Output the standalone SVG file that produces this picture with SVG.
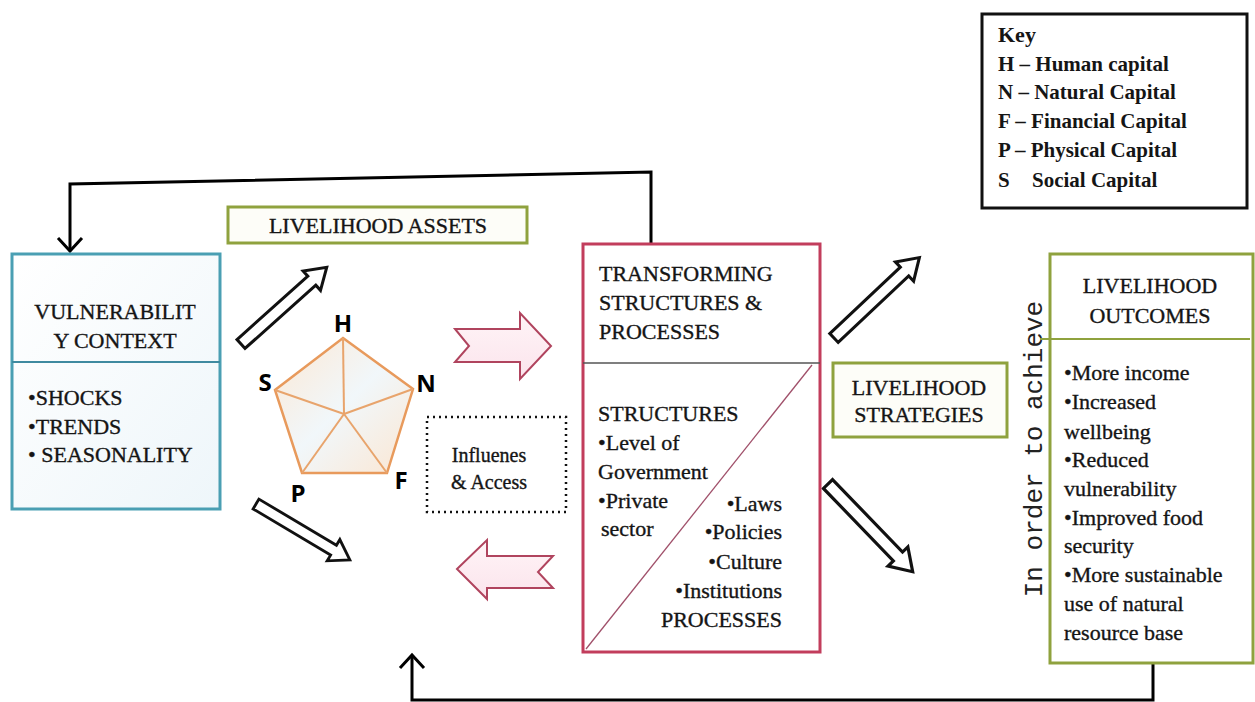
<svg xmlns="http://www.w3.org/2000/svg" width="1255" height="702" viewBox="0 0 1255 702">
<defs>
<linearGradient id="gBlue" x1="0" y1="0" x2="1" y2="1">
<stop offset="0" stop-color="#ffffff"/><stop offset="1" stop-color="#eef6fa"/>
</linearGradient>
<linearGradient id="gPink" x1="0" y1="0" x2="0" y2="1">
<stop offset="0" stop-color="#fff4f7"/><stop offset="1" stop-color="#fbe4ec"/>
</linearGradient>
<linearGradient id="gPent" x1="0" y1="0" x2="1" y2="1">
<stop offset="0" stop-color="#fce8d4"/><stop offset="0.5" stop-color="#f1f7fa"/><stop offset="1" stop-color="#fbe6d2"/>
</linearGradient>
<path id="blk" d="M0,-6 L95,-6 L95,-13 L115,0 L95,13 L95,6 L0,6 Z"/>
<style>
text{font-family:"Liberation Serif","Times New Roman",serif;fill:#151515;}
.t{font-size:22px;stroke:#151515;stroke-width:0.35px;}
.c{text-anchor:middle;}
.r{text-anchor:end;}
.k{font-size:21px;font-weight:bold;}
.ps{font-family:"Open Sans","Liberation Sans",sans-serif;font-weight:bold;font-size:24px;fill:#000;text-anchor:middle;}
.mono{font-family:"Liberation Mono","DejaVu Sans Mono",monospace;font-size:26px;fill:#222;}
.blkarrow{fill:#fff;stroke:#111;stroke-width:3;stroke-linejoin:miter;}
.pinkarrow{fill:url(#gPink);stroke:#b0445e;stroke-width:2;}
.conn{fill:none;stroke:#000;stroke-width:3;}
.green{fill:#fdfdf8;stroke:#8fa23e;stroke-width:3;}
</style>
</defs>
<rect width="1255" height="702" fill="#fff"/>

<g id="connectors">
<polyline class="conn" points="651,244 651,172 70,184 70,250"/>
<polyline class="conn" points="58,238 70,251 82,238"/>
<polyline class="conn" points="1153,663 1153,700 412,700 412,656"/>
<polyline class="conn" points="400,668 412,655 424,668"/>
</g>

<g id="key">
<rect x="982" y="14" width="265" height="194" fill="#fff" stroke="#111" stroke-width="3"/>
<text x="998" y="42" class="k" style="font-size:22px">Key</text>
<text x="998" y="71" class="k">H – Human capital</text>
<text x="998" y="99" class="k">N – Natural Capital</text>
<text x="998" y="128" class="k">F – Financial Capital</text>
<text x="998" y="157" class="k">P – Physical Capital</text>
<text x="998" y="187" class="k">S<tspan x="1032">Social Capital</tspan></text>
</g>

<g id="vulnerability">
<rect x="12" y="254" width="208" height="255" fill="url(#gBlue)" stroke="#4a9fb3" stroke-width="3"/>
<line x1="12" y1="362" x2="220" y2="362" stroke="#3f8aa0" stroke-width="2"/>
<text x="115" y="319" class="t c">VULNERABILIT</text>
<text x="115" y="348" class="t c">Y CONTEXT</text>
<text x="28" y="405" class="t">•SHOCKS</text>
<text x="28" y="434" class="t">•TRENDS</text>
<text x="28" y="462" class="t">• SEASONALITY</text>
</g>

<g id="assets-label">
<rect x="228" y="207" width="299" height="36" class="green"/>
<text x="378" y="233" class="t c">LIVELIHOOD ASSETS</text>
</g>

<g id="pentagon">
<polygon points="343,338 413,389 387,473 302,473 275,390" fill="url(#gPent)" stroke="#e89a5c" stroke-width="2.5"/>
<g stroke="#e8a46c" stroke-width="2">
<line x1="344" y1="414" x2="343" y2="338"/>
<line x1="344" y1="414" x2="413" y2="389"/>
<line x1="344" y1="414" x2="387" y2="473"/>
<line x1="344" y1="414" x2="302" y2="473"/>
<line x1="344" y1="414" x2="275" y2="390"/>
</g>
<text x="343" y="332" class="ps">H</text>
<text x="265" y="391" class="ps">S</text>
<text x="426" y="392" class="ps">N</text>
<text x="298" y="502" class="ps">P</text>
<text x="401" y="489" class="ps">F</text>
</g>

<g id="influences">
<rect x="427" y="417" width="139" height="95" fill="#fff" stroke="#111" stroke-width="2.5" stroke-dasharray="2,4"/>
<text x="489" y="462" class="t c" style="font-size:20px">Influenes</text>
<text x="489" y="489" class="t c" style="font-size:20px">&amp; Access</text>
</g>

<g id="arrows-block">
<use href="#blk" class="blkarrow" transform="translate(241,344) rotate(-41.8)"/>
<use href="#blk" class="blkarrow" transform="translate(256,504) scale(0.95) rotate(30.8)"/>
<use href="#blk" class="blkarrow" transform="translate(834,338) scale(1.02) rotate(-43.3)"/>
<use href="#blk" class="blkarrow" transform="translate(828,484) scale(1.06) rotate(46)"/>
</g>

<g id="arrows-pink">
<polygon class="pinkarrow" points="455,329 520,329 520,313 551,346 520,379 520,362 455,362 469,346"/>
<polygon class="pinkarrow" points="457,569 487,540 487,556 553,556 538,572 553,588 487,588 487,599"/>
</g>

<g id="transforming">
<rect x="583" y="244" width="237" height="408" fill="#fff" stroke="#c23d5c" stroke-width="3"/>
<line x1="583" y1="363" x2="820" y2="363" stroke="#555" stroke-width="1.5"/>
<line x1="586" y1="649" x2="812" y2="365" stroke="#a0506a" stroke-width="1.3"/>
<text x="599" y="281" class="t">TRANSFORMING</text>
<text x="599" y="310" class="t">STRUCTURES &amp;</text>
<text x="599" y="339" class="t">PROCESSES</text>
<text x="598" y="421" class="t">STRUCTURES</text>
<text x="598" y="450" class="t">•Level of</text>
<text x="598" y="479" class="t">Government</text>
<text x="598" y="508" class="t">•Private</text>
<text x="601" y="536" class="t">sector</text>
<text x="782" y="511" class="t r">•Laws</text>
<text x="782" y="539" class="t r">•Policies</text>
<text x="782" y="569" class="t r">•Culture</text>
<text x="782" y="598" class="t r">•Institutions</text>
<text x="782" y="627" class="t r">PROCESSES</text>
</g>

<g id="strategies">
<rect x="833" y="363" width="174" height="74" class="green"/>
<text x="919" y="395" class="t c">LIVELIHOOD</text>
<text x="919" y="422" class="t c">STRATEGIES</text>
</g>

<g id="achieve">
<text x="1042" y="449" class="mono c" transform="rotate(-90 1042 449)">In order to achieve</text>
</g>

<g id="outcomes">
<rect x="1050" y="254" width="203" height="409" fill="#fff" stroke="#8fa23e" stroke-width="3"/>
<line x1="1040" y1="339" x2="1250" y2="339" stroke="#8fa23e" stroke-width="2"/>
<text x="1150" y="293" class="t c">LIVELIHOOD</text>
<text x="1150" y="323" class="t c">OUTCOMES</text>
<text x="1064" y="380" class="t">•More income</text>
<text x="1064" y="409" class="t">•Increased</text>
<text x="1064" y="439" class="t">wellbeing</text>
<text x="1064" y="467" class="t">•Reduced</text>
<text x="1064" y="496" class="t">vulnerability</text>
<text x="1064" y="525" class="t">•Improved food</text>
<text x="1064" y="553" class="t">security</text>
<text x="1064" y="582" class="t">•More sustainable</text>
<text x="1064" y="611" class="t">use of natural</text>
<text x="1064" y="640" class="t">resource base</text>
</g>
</svg>
